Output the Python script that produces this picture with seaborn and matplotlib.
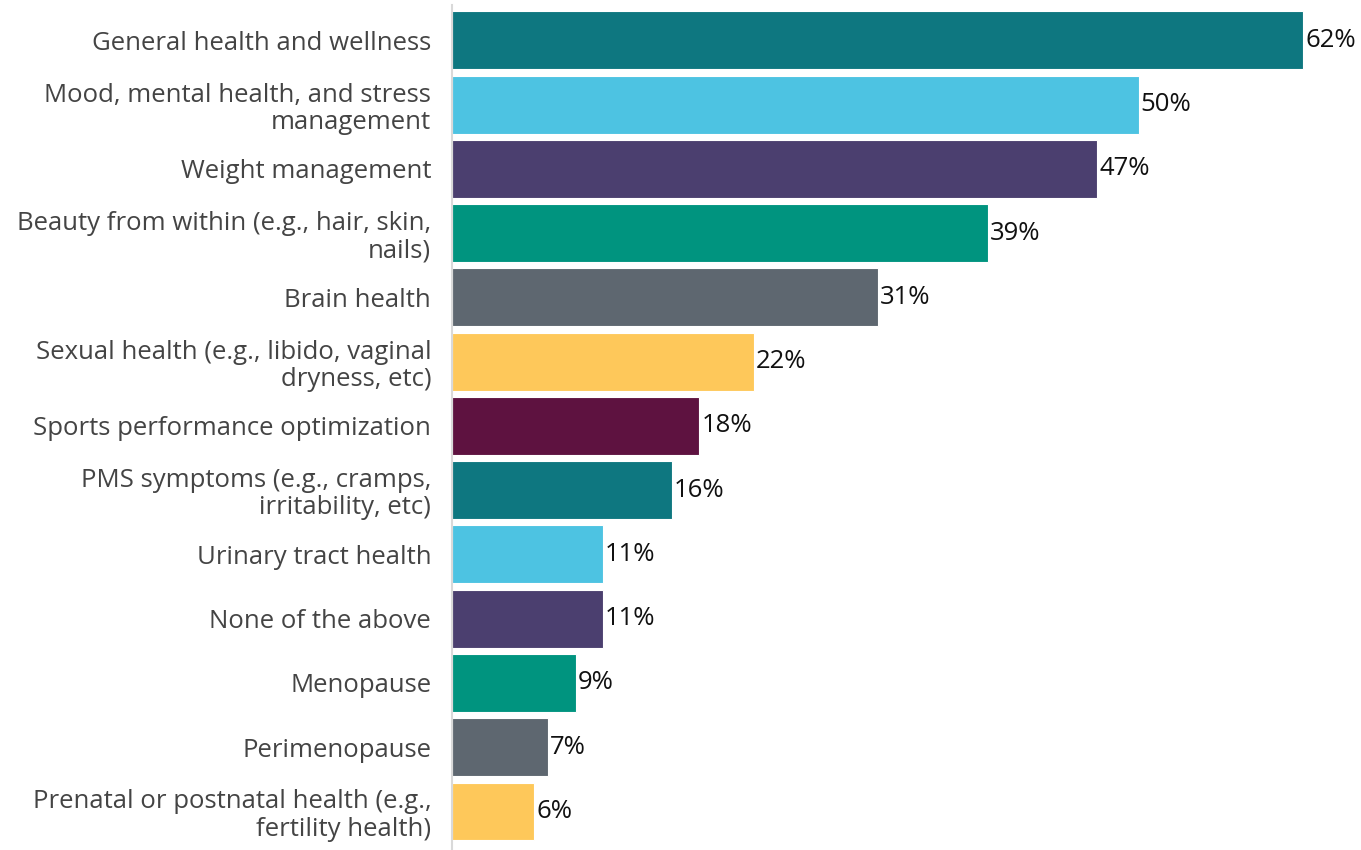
import matplotlib
matplotlib.use("Agg")
import matplotlib.pyplot as plt
import seaborn as sns
import pandas as pd

categories = [
    "General health and wellness",
    "Mood, mental health, and stress\nmanagement",
    "Weight management",
    "Beauty from within (e.g., hair, skin,\nnails)",
    "Brain health",
    "Sexual health (e.g., libido, vaginal\ndryness, etc)",
    "Sports performance optimization",
    "PMS symptoms (e.g., cramps,\nirritability, etc)",
    "Urinary tract health",
    "None of the above",
    "Menopause",
    "Perimenopause",
    "Prenatal or postnatal health (e.g.,\nfertility health)",
]
values = [62, 50, 47, 39, 31, 22, 18, 16, 11, 11, 9, 7, 6]
colors = ["#0E7780", "#4DC3E2", "#4B3F6F", "#00947F", "#5E6770", "#FEC85A",
          "#5E1240", "#0E7780", "#4DC3E2", "#4B3F6F", "#00947F", "#5E6770", "#FEC85A"]

sns.set_theme(style="white")
plt.rcParams['font.family'] = ['Open Sans', 'DejaVu Sans']

df = pd.DataFrame({"cat": categories, "val": values})

fig = plt.figure(figsize=(13.61, 8.5), dpi=100)
ax = fig.add_axes([452/1361, 0.0, 1 - 452/1361, 845/850])
sns.barplot(data=df, y="cat", x="val", hue="cat", palette=colors, legend=False,
            width=0.9, ax=ax, edgecolor="white", linewidth=0.8, saturation=1)

for i, v in enumerate(values):
    ax.text(v + 0.15, i, f"{v}%", va="center", ha="left", fontsize=18.5,
            color="#111111", fontweight="medium")

ax.set_xlim(0, 66.2)
ax.set_ylim(12.6, -0.55)
ax.set_xlabel("")
ax.set_ylabel("")
ax.set_xticks([])
ax.tick_params(axis="y", length=0, pad=15, labelsize=18.5, labelcolor="#444444")
for lab in ax.get_yticklabels():
    lab.set_horizontalalignment("right")
    lab.set_multialignment("right")
    lab.set_linespacing(1.12)
for s in ["top", "right", "bottom"]:
    ax.spines[s].set_visible(False)
ax.spines["left"].set_color("#d9d9d9")
ax.spines["left"].set_linewidth(1.5)

fig.savefig("out.png", dpi=100)
